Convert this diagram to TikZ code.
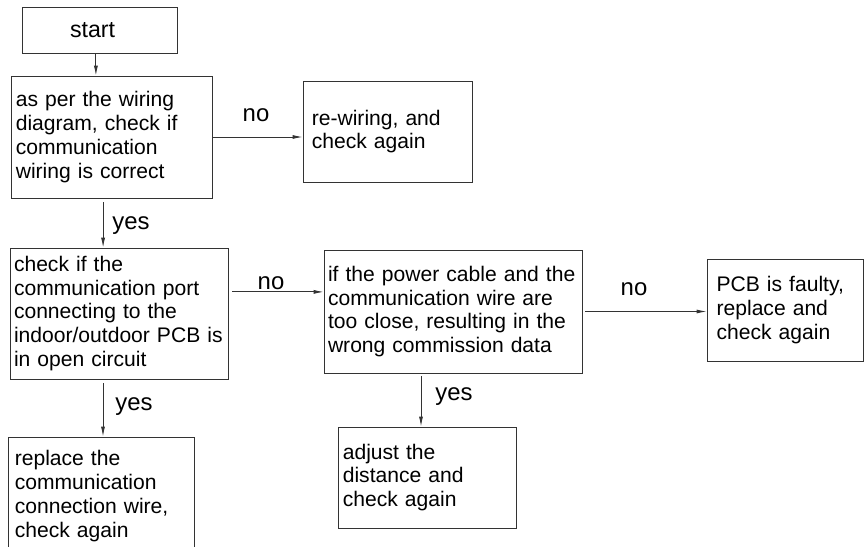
\documentclass[tikz,border=0pt]{standalone}
\usepackage{fontspec}
\setmainfont{Liberation Sans}
\usetikzlibrary{arrows.meta,positioning,calc}

\begin{document}
\begin{tikzpicture}[
    stepbox/.style={draw=black!80, line width=0.6pt, rectangle, align=left, inner xsep=0.12cm,
                    inner ysep=0pt, font=\fontsize{15}{17}\selectfont},
    edge/.style={-{Latex[length=0.25cm,width=0.1cm]}, line width=0.6pt, draw=black!80},
    label/.style={font=\fontsize{17}{19}\selectfont},
]

\useasboundingbox (0,0) rectangle (21.6,-13.65);

% Boxes
\node[stepbox, inner xsep=1.2cm, text width=1.475cm, minimum height=1.15cm,
      font=\fontsize{16.5}{18}\selectfont] (start) at (2.4875,-0.75) {start};
\node[stepbox, text width=4.785cm, minimum height=3.05cm] (wiring) at (2.7875,-3.425)
  {as per the wiring\\diagram, check if\\communication\\wiring is correct};
\node[stepbox, inner xsep=0.22cm, text width=3.785cm, minimum height=2.525cm] (rewire) at (9.6875,-3.2875)
  {re-wiring, and\\check again};
\node[stepbox, inner xsep=0.1cm, text width=5.25cm, minimum height=3.275cm] (port) at (2.975,-7.8375)
  {check if the\\communication port\\connecting to the\\indoor/outdoor PCB is\\in open circuit};
\node[stepbox, inner xsep=0.1cm, text width=6.25cm, minimum height=3.075cm] (power) at (11.325,-7.7875)
  {if the power cable and the\\communication wire are\\too close, resulting in the\\wrong commission data};
\node[stepbox, inner xsep=0.17cm, text width=4.31cm, minimum height=2.95cm] (replace) at (2.525,-12.4)
  {replace the\\communication\\connection wire,\\check again};
\node[stepbox, text width=4.21cm, minimum height=2.525cm] (adjust) at (10.675,-11.9375)
  {adjust the\\distance and\\check again};
\node[stepbox, inner xsep=0.24cm, text width=3.42cm, minimum height=2.55cm] (pcb) at (19.625,-7.75)
  {PCB is faulty,\\replace and\\check again};

% Connections
\draw[edge] ([xshift=-0.09cm]start.south) -- ([xshift=-0.09cm]start.south |- wiring.north);
\draw[edge] (wiring.east) -- (wiring.east -| rewire.west);
\draw[edge, shorten <=0.1cm] ([xshift=-0.21cm]wiring.south) -- ([xshift=-0.21cm]wiring.south |- port.north);
\draw[edge, shorten <=0.1cm] ([yshift=0.54cm]port.east) -- ([yshift=0.54cm]port.east -| power.west);
\draw[edge, shorten <=0.1cm] ([xshift=-0.4cm]port.south) -- ([xshift=-0.4cm]port.south |- replace.north);
\draw[edge, shorten <=0.07cm] ([xshift=-0.8cm]power.south) -- ([xshift=-0.8cm]power.south |- adjust.north);
\draw[edge, shorten <=0.07cm] (power.east) -- (power.east -| pcb.west);

% Labels
\node[label] (no1) at (6.4,-2.875) {no};
\node[label] (yes1) at (3.275,-5.65) {yes};
\node[label] (no2) at (6.775,-7.075) {no};
\node[label] (yes2) at (3.35,-10.175) {yes};
\node[label] (yes3) at (11.35,-9.925) {yes};
\node[label] (no3) at (15.85,-7.225) {no};

\end{tikzpicture}
\end{document}
